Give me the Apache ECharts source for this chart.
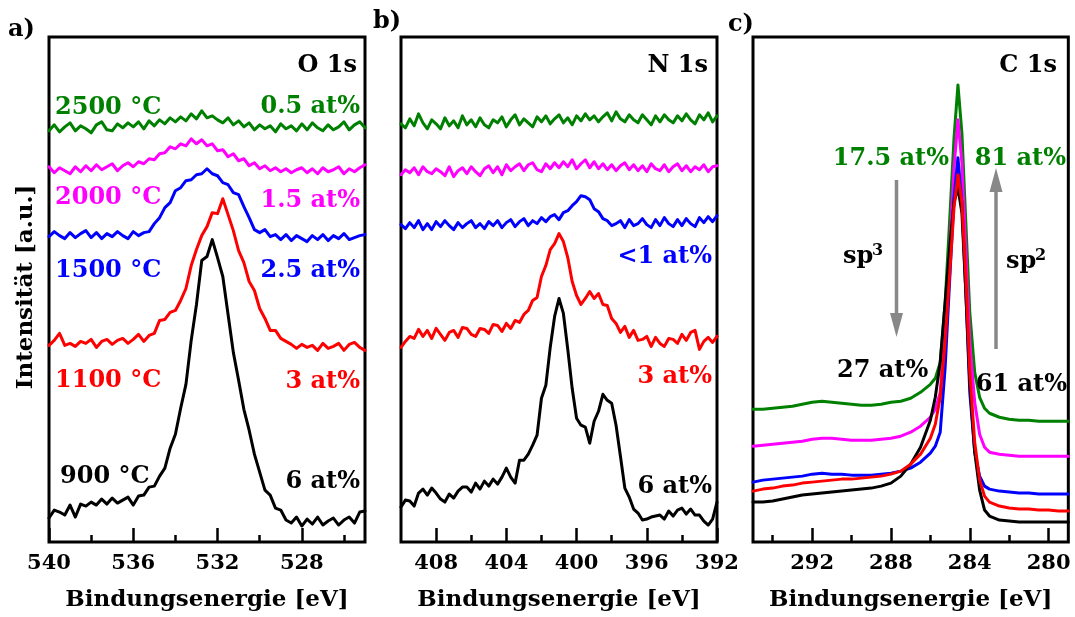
<!DOCTYPE html>
<html>
<head>
<meta charset="utf-8">
<script src="https://cdn.jsdelivr.net/npm/echarts@6/dist/echarts.min.js"></script>
<style>
html,body{margin:0;padding:0;background:#fff;}
#chart{width:1075px;height:617px;}
</style>
</head>
<body>
<div id="chart"></div>
<script>
// ---------- DATA (intensity in arbitrary units) ----------
// Panel a) O 1s
const energyA = [540,539.75,539.5,539.25,539,538.75,538.5,538.25,538,537.75,537.5,537.25,537,536.75,536.5,536.25,536,535.75,535.5,535.25,535,534.75,534.5,534.25,534,533.75,533.5,533.25,533,532.75,532.5,532.25,532,531.75,531.5,531.25,531,530.75,530.5,530.25,530,529.75,529.5,529.25,529,528.75,528.5,528.25,528,527.75,527.5,527.25,527,526.75,526.5,526.25,526,525.75,525.5,525.25,525];
const o1s_2500 = [412,418,411,416,420,412,417,414,410,418,421,413,412,419,415,420,416,421,414,422,417,423,419,425,421,426,422,429,424,432,425,427,423,420,425,418,422,416,420,413,418,414,417,411,419,414,417,412,419,413,420,415,412,418,413,416,421,413,418,421,415];
const o1s_2000 = [376,370,375,372,369,376,371,377,372,378,373,376,379,372,377,380,376,381,379,384,383,389,390,396,394,399,397,404,399,403,397,399,392,393,386,389,382,384,377,380,374,377,372,375,371,374,370,373,375,370,374,369,375,371,373,376,369,374,371,375,378];
const o1s_1500 = [306,311,307,304,310,305,309,312,305,310,304,309,306,311,307,304,311,307,310,311,319,325,335,340,352,355,362,363,368,369,374,369,367,360,358,350,348,336,325,313,310,313,306,308,303,308,302,307,304,301,307,303,308,302,307,304,309,303,305,307,308];
const o1s_1100 = [197,202,209,197,199,196,201,199,203,195,201,203,198,202,204,199,203,208,201,207,209,222,223,230,232,242,254,277,293,307,316,330,329,344,328,312,292,280,261,252,234,224,212,212,204,201,198,194,198,195,197,192,199,194,196,199,192,198,200,195,192];
const o1s_900  = [24,32,30,27,37,25,38,36,40,37,43,38,44,39,42,45,37,46,47,55,56,66,74,94,108,134,158,202,238,282,286,303,285,266,228,190,162,133,112,88,70,52,47,34,32,22,19,25,16,23,18,25,17,21,24,17,22,25,19,30,31];

// Panel b) N 1s
const energyB = [410,409.75,409.5,409.25,409,408.75,408.5,408.25,408,407.75,407.5,407.25,407,406.75,406.5,406.25,406,405.75,405.5,405.25,405,404.75,404.5,404.25,404,403.75,403.5,403.25,403,402.75,402.5,402.25,402,401.75,401.5,401.25,401,400.75,400.5,400.25,400,399.75,399.5,399.25,399,398.75,398.5,398.25,398,397.75,397.5,397.25,397,396.75,396.5,396.25,396,395.75,395.5,395.25,395,394.75,394.5,394.25,394,393.75,393.5,393.25,393,392.75,392.5,392.25,392];
const n1s_2500 = [419,415,424,417,429,420,414,423,419,414,425,417,422,415,427,418,423,416,425,418,415,423,420,426,416,423,428,418,424,420,416,426,421,427,419,424,428,420,425,418,427,422,429,423,427,421,426,430,422,431,424,421,428,423,420,428,423,418,427,421,428,423,420,427,422,429,423,419,428,423,430,421,427];
const n1s_2000 = [368,373,370,375,368,376,371,369,374,371,367,376,366,372,375,369,376,371,367,374,377,370,376,368,378,372,376,379,372,378,380,373,371,379,374,380,375,381,376,383,374,379,383,375,381,374,379,373,378,372,377,380,373,378,372,377,371,379,374,372,378,371,376,379,372,377,371,376,373,378,371,376,377];
const n1s_1500 = [318,314,320,315,322,313,319,313,321,316,322,317,313,320,315,319,322,315,319,314,321,317,322,315,320,323,316,321,324,317,322,319,325,321,326,328,323,330,332,337,341,347,346,343,334,331,324,322,317,319,322,315,323,317,319,324,318,315,323,317,325,319,316,323,317,324,319,316,325,320,326,321,327];
const n1s_1100 = [195,201,206,204,213,206,212,204,214,208,202,210,212,205,215,214,208,206,214,213,209,218,217,211,219,214,222,220,228,232,242,245,266,277,293,299,309,301,285,261,247,238,244,251,244,249,238,237,224,219,210,216,205,212,202,203,206,196,205,199,196,204,203,199,208,202,210,212,193,201,205,200,206];
const n1s_900  = [35,42,41,36,49,53,47,54,49,43,40,48,44,51,55,55,50,59,53,61,56,63,58,65,74,65,59,82,82,88,97,107,144,157,195,226,244,229,193,154,124,117,115,99,121,131,148,142,139,117,86,54,45,33,29,22,23,25,26,27,23,31,26,32,34,28,33,27,27,21,17,23,40];

// Panel c) C 1s
const energyC = [295,294.5,294,293.5,293,292.5,292,291.5,291,290.5,290,289.5,289,288.5,288,287.5,287,286.5,286,285.75,285.5,285.25,285,284.8,284.6,284.4,284.2,284,283.75,283.5,283.25,283,282.5,282,281.5,281,280.5,280,279.5,279];
const c1s_2500 = [133,133,134,135,136,138,140,141,140,139,138,137,137,138,140,141,144,150,158,164,180,240,330,405,458,410,320,230,170,145,134,129,125,123,122,122,121,121,121,121];
const c1s_2000 = [96,97,98,99,100,101,103,104,104,103,102,102,102,103,104,106,110,116,125,133,150,215,300,375,423,380,290,200,140,108,95,90,88,87,86,86,86,86,86,86];
const c1s_1500 = [60,62,63,64,65,66,68,69,68,68,67,67,67,68,69,71,74,80,89,96,110,175,270,345,385,340,250,150,90,66,56,53,51,50,49,49,48,48,48,48];
const c1s_1100 = [51,53,54,56,57,59,60,61,62,63,63,64,65,66,68,71,78,88,104,118,145,200,275,335,368,340,265,170,100,62,46,40,36,34,33,33,32,32,31,31];
const c1s_900  = [40,40,41,43,45,47,48,49,50,51,52,53,54,56,59,66,78,95,122,145,180,240,300,340,355,330,250,160,90,52,32,26,22,21,20,20,20,20,20,20];

// Tick labels
const majorTicksA = [540,536,532,528];
const minorTicksA = [538,534,530,526];
const majorTicksB = [408,404,400,396,392];
const minorTicksB = [406,402,398,394];
const majorTicksC = [292,288,284,280];
const minorTicksC = [294,290,286,282];

const COLORS = {t2500:'#008000', t2000:'#ff00ff', t1500:'#0000ff', t1100:'#ff0000', t900:'#000000'};
// ---------------------------------------------------------

const FONT = 'DejaVu Serif';
const pairs = (xs, ys) => xs.map((x, i) => [x, ys[i]]);

const gridDefs = [
  {left:49, top:37, width:316, height:506},
  {left:401, top:37, width:316, height:506},
  {left:753, top:37, width:317, height:506}
];
const ranges = [[525,540],[392,410],[279,295]];
const majors = [majorTicksA, majorTicksB, majorTicksC];
const minors = [minorTicksA, minorTicksB, minorTicksC];

const grid = gridDefs.map(g => Object.assign({show:true, borderColor:'#000', borderWidth:3, backgroundColor:'transparent'}, g));
const xAxis = [];
const yAxis = [];
for (let i = 0; i < 3; i++) {
  xAxis.push({
    gridIndex:i, type:'value', min:ranges[i][0], max:ranges[i][1], inverse:true, position:'bottom',
    axisLine:{show:false},
    axisTick:{show:true, inside:true, length:14, lineStyle:{color:'#000', width:2.5}, customValues:majors[i]},
    axisLabel:{show:true, customValues:majors[i], color:'#000', fontFamily:FONT, fontWeight:'bold', fontSize:21, margin:11},
    splitLine:{show:false},
    name:'Bindungsenergie [eV]', nameLocation:'middle', nameGap:47,
    nameTextStyle:{color:'#000', fontFamily:FONT, fontWeight:'bold', fontSize:23}
  });
  xAxis.push({
    gridIndex:i, type:'value', min:ranges[i][0], max:ranges[i][1], inverse:true, position:'bottom',
    axisLine:{show:false},
    axisTick:{show:true, inside:true, length:7, lineStyle:{color:'#000', width:2.5}, customValues:minors[i]},
    axisLabel:{show:false},
    splitLine:{show:false}
  });
  yAxis.push({gridIndex:i, type:'value', min:0, max:506, show:false});
}

function mk(grid, xs, ys, color) {
  return {type:'line', xAxisIndex:grid*2, yAxisIndex:grid, data:pairs(xs, ys), symbol:'none',
          lineStyle:{color:color, width:3, cap:'round', join:'round'}, itemStyle:{color:color}, clip:true, silent:true};
}
const series = [
  mk(0, energyA, o1s_2500, COLORS.t2500),
  mk(0, energyA, o1s_2000, COLORS.t2000),
  mk(0, energyA, o1s_1500, COLORS.t1500),
  mk(0, energyA, o1s_1100, COLORS.t1100),
  mk(0, energyA, o1s_900,  COLORS.t900),
  mk(1, energyB, n1s_2500, COLORS.t2500),
  mk(1, energyB, n1s_2000, COLORS.t2000),
  mk(1, energyB, n1s_1500, COLORS.t1500),
  mk(1, energyB, n1s_1100, COLORS.t1100),
  mk(1, energyB, n1s_900,  COLORS.t900),
  mk(2, energyC, c1s_2500, COLORS.t2500),
  mk(2, energyC, c1s_2000, COLORS.t2000),
  mk(2, energyC, c1s_1500, COLORS.t1500),
  mk(2, energyC, c1s_900,  COLORS.t900),
  mk(2, energyC, c1s_1100, COLORS.t1100)
];

function txt(text, x, y, color, align, size) {
  return {type:'text', x:x, y:y, z:100, silent:true,
    style:{text:text, fill:color, font:'bold ' + (size||24) + 'px "' + FONT + '"', textAlign:align||'left', textVerticalAlign:'middle'}};
}
const GRAY = '#888888';
const graphic = [
  txt('a)', 8, 30, '#000', 'left'),
  txt('b)', 373, 22, '#000', 'left'),
  txt('c)', 728, 25, '#000', 'left'),
  {type:'text', x:26, y:287, rotation:Math.PI/2, silent:true,
    style:{text:'Intensität [a.u.]', fill:'#000', font:'bold 23px "' + FONT + '"', textAlign:'center', textVerticalAlign:'middle'}},
  txt('O 1s', 357, 66, '#000', 'right'),
  txt('N 1s', 708, 66, '#000', 'right'),
  txt('C 1s', 1057, 66, '#000', 'right'),
  // panel a labels
  txt('2500 °C', 55, 108, COLORS.t2500, 'left'),
  txt('0.5 at%', 360, 107, COLORS.t2500, 'right'),
  txt('2000 °C', 55, 198, COLORS.t2000, 'left'),
  txt('1.5 at%', 360, 201, COLORS.t2000, 'right'),
  txt('1500 °C', 55, 271, COLORS.t1500, 'left'),
  txt('2.5 at%', 360, 271, COLORS.t1500, 'right'),
  txt('1100 °C', 55, 381, COLORS.t1100, 'left'),
  txt('3 at%', 360, 382, COLORS.t1100, 'right'),
  txt('900 °C', 60, 477, COLORS.t900, 'left'),
  txt('6 at%', 360, 482, COLORS.t900, 'right'),
  // panel b labels
  txt('<1 at%', 712, 257, COLORS.t1500, 'right'),
  txt('3 at%', 712, 377, COLORS.t1100, 'right'),
  txt('6 at%', 712, 487, COLORS.t900, 'right'),
  // panel c labels
  txt('17.5 at%', 949, 159, COLORS.t2500, 'right'),
  txt('81 at%', 1066, 159, COLORS.t2500, 'right'),
  txt('27 at%', 837, 371, '#000', 'left'),
  txt('61 at%', 1067, 385, '#000', 'right'),
  txt('sp', 843, 257, '#000', 'left', 24),
  txt('3', 872, 251, '#000', 'left', 16),
  txt('sp', 1006, 262, '#000', 'left', 24),
  txt('2', 1035, 256, '#000', 'left', 16),
  // arrows
  {type:'line', silent:true, shape:{x1:896.5, y1:180, x2:896.5, y2:315}, style:{stroke:GRAY, lineWidth:3.5}},
  {type:'polygon', silent:true, shape:{points:[[890,313],[903,313],[896.5,337]]}, style:{fill:GRAY}},
  {type:'line', silent:true, shape:{x1:996, y1:349, x2:996, y2:190}, style:{stroke:GRAY, lineWidth:3.5}},
  {type:'polygon', silent:true, shape:{points:[[989.5,192],[1002.5,192],[996,168]]}, style:{fill:GRAY}}
];

const chart = echarts.init(document.getElementById('chart'), null, {renderer:'canvas'});
chart.setOption({animation:false, backgroundColor:'#fff', grid, xAxis, yAxis, series, graphic});
</script>
</body>
</html>
